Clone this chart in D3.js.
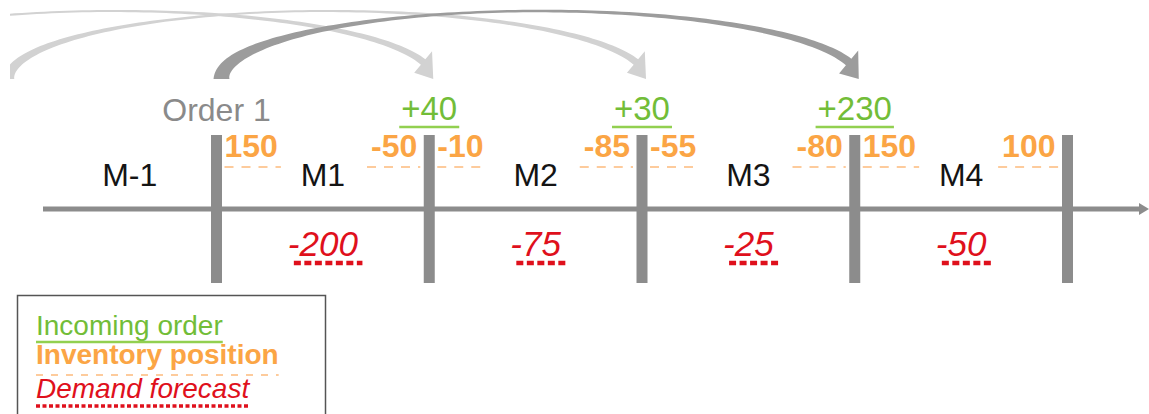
<!DOCTYPE html>
<html><head><meta charset="utf-8">
<script src="https://cdn.jsdelivr.net/npm/d3@7"></script>
<style>html,body{margin:0;padding:0;background:#fff;overflow:hidden}</style>
</head><body><svg id="c" width="1149" height="414"></svg>
<script>
// ---- data ----
const periods = ["M-1", "M1", "M2", "M3", "M4"];
const boundaries = [0, 1, 2, 3, 4];
const invStart = [150, -10, -55, 150];   // inventory at start of M1..M4
const invEnd = [-50, -85, -80, 100];     // inventory at end of M1..M4
const demand = [-200, -75, -25, -50];    // demand forecast M1..M4
const incomingBoundary = [1, 2, 3];
const incoming = [40, 30, 230];
const orderFrom = [-2, -1, 0];
const leadTime = 3;
const orderLabels = ["", "", "Order 1"];
const legendItems = ["Incoming order", "Inventory position", "Demand forecast"];

// ---- setup ----
const svg = d3.select("#c");
const x = d3.scaleLinear().domain([0, 4]).range([216.5, 1067.5]);
const font = "'Liberation Sans', Arial, sans-serif";
const C = {green: "#72bd38", greenLine: "#92d050", orange: "#fba545", orangeLine: "#fdbb7c",
           red: "#df101c", gray: "#8c8c8c", light: "#d2d2d2", dark: "#9c9c9c"};
const axisStart = 43, axisEnd = 1149, axisY = 209;

// ---- curved arrows ----
svg.append("clipPath").attr("id", "clipA").append("rect")
  .attr("x", 10).attr("y", 0).attr("width", 1139).attr("height", 110);
const ga = svg.append("g").attr("clip-path", "url(#clipA)");

function arrowPath(x0, x1, cy, b, wb, wm, we, hw) {
  const cx = (x0 + x1) / 2, a = (x1 - x0) / 2;
  const th = Math.asin(17 / b);
  const N = 120, outer = [], inner = [];
  let ph, nh;
  for (let i = 0; i <= N; i++) {
    const u = i / N;
    const t = Math.PI - (Math.PI - th) * u;
    const px = cx + a * Math.cos(t), py = cy - b * Math.sin(t);
    let tx = a * Math.sin(t), ty = b * Math.cos(t);
    const L = Math.hypot(tx, ty); tx /= L; ty /= L;
    const nx = ty, ny = -tx;
    const w = wm + (wb - wm) * Math.pow(Math.max(0, 1 - u / 0.5), 2)
                 + (we - wm) * Math.pow(Math.max(0, (u - 0.5) / 0.5), 1.6);
    outer.push([px + nx * w / 2, py + ny * w / 2]);
    inner.push([px - nx * w / 2, py - ny * w / 2]);
    if (i === N) { ph = [px, py]; nh = [nx, ny]; }
  }
  const pts = outer.slice();
  pts.push([ph[0] + nh[0] * hw, ph[1] + nh[1] * hw]);
  pts.push([x1, cy]);
  pts.push([ph[0] - nh[0] * hw, ph[1] - nh[1] * hw]);
  inner.reverse().forEach(p => pts.push(p));
  return "M" + pts.map(p => p[0].toFixed(2) + "," + p[1].toFixed(2)).join("L") + "Z";
}

const arrows = orderFrom.map((f, i) => ({from: f, to: f + leadTime, label: orderLabels[i]}));
arrows.forEach(d => {
  const main = d.label !== "";
  ga.append("path")
    .attr("d", arrowPath(x(d.from) + 5, x(d.to) + 4, 79, 68,
                         main ? 16 : 11, main ? 2.5 : 2, main ? 8.5 : 7, main ? 15 : 14))
    .attr("fill", main ? C.dark : C.light);
});

// ---- axis ----
svg.append("line").attr("x1", axisStart).attr("x2", axisEnd - 8)
  .attr("y1", axisY).attr("y2", axisY).attr("stroke", C.gray).attr("stroke-width", 5);
svg.append("path")
  .attr("d", `M${axisEnd - 10},${axisY - 6}L${axisEnd},${axisY}L${axisEnd - 10},${axisY + 6}Z`)
  .attr("fill", C.gray);

// ---- boundary bars ----
svg.selectAll("rect.bar").data(boundaries).join("rect").attr("class", "bar")
  .attr("x", d => x(d) - 5.5).attr("y", 135).attr("width", 11).attr("height", 148)
  .attr("fill", C.gray);

// ---- period labels ----
const segStart = i => i === 0 ? axisStart : x(i - 1);
const segEnd = i => x(i);
svg.selectAll("text.per").data(periods).join("text").attr("class", "per")
  .attr("x", (d, i) => (segStart(i) + segEnd(i)) / 2).attr("y", 186)
  .attr("text-anchor", "middle").attr("font-family", font).attr("font-size", 32)
  .attr("fill", "#141414").text(d => d);

// ---- order labels ----
arrows.filter(d => d.label).forEach(d => {
  svg.append("text").attr("x", x(d.from)).attr("y", 121).attr("text-anchor", "middle")
    .attr("font-family", font).attr("font-size", 32).attr("fill", "#8a8a8a").text(d.label);
});

// ---- inventory positions ----
function dashedUnder(t, y, color, width, dash, padL, padR) {
  const bb = t.node().getBBox();
  svg.append("line").attr("x1", bb.x - padL).attr("x2", bb.x + bb.width + padR)
    .attr("y1", y).attr("y2", y).attr("stroke", color).attr("stroke-width", width)
    .attr("stroke-dasharray", dash);
}
invStart.forEach((v, k) => {
  const t = svg.append("text").attr("x", x(k) + 8).attr("y", 157).attr("text-anchor", "start")
    .attr("font-family", font).attr("font-size", 32).attr("font-weight", "bold")
    .attr("fill", C.orange).text(String(v));
  dashedUnder(t, 167, C.orangeLine, 1.6, "9,8", 0, 3);
});
invEnd.forEach((v, k) => {
  const t = svg.append("text").attr("x", x(k + 1) - 12).attr("y", 157).attr("text-anchor", "end")
    .attr("font-family", font).attr("font-size", 32).attr("font-weight", "bold")
    .attr("fill", C.orange).text(String(v));
  dashedUnder(t, 167, C.orangeLine, 1.6, "9,8", 4, 3);
});

// ---- incoming orders ----
incoming.forEach((v, i) => {
  const t = svg.append("text").attr("x", x(incomingBoundary[i])).attr("y", 120)
    .attr("text-anchor", "middle").attr("font-family", font).attr("font-size", 33)
    .attr("fill", C.green).text("+" + v);
  const bb = t.node().getBBox();
  svg.append("line").attr("x1", bb.x - 2).attr("x2", bb.x + bb.width + 2)
    .attr("y1", 127).attr("y2", 127).attr("stroke", C.greenLine).attr("stroke-width", 2.5);
});

// ---- demand forecast ----
demand.forEach((v, k) => {
  const cxp = (x(k) + x(k + 1)) / 2;
  const t = svg.append("text").attr("x", cxp).attr("y", 256).attr("text-anchor", "middle")
    .attr("font-family", font).attr("font-size", 35).attr("font-style", "italic")
    .attr("fill", C.red).text(String(v));
  const bb = t.node().getBBox();
  svg.append("line").attr("x1", bb.x + 6).attr("x2", bb.x + bb.width + 4)
    .attr("y1", 263).attr("y2", 263).attr("stroke", C.red).attr("stroke-width", 4.5)
    .attr("stroke-dasharray", "7,3.5");
});

// ---- legend ----
svg.append("rect").attr("x", 17.5).attr("y", 295.5).attr("width", 308).attr("height", 140)
  .attr("fill", "none").attr("stroke", "#555").attr("stroke-width", 1.5);
const lg = [
  {y: 335, fill: C.green, weight: "normal", style: "normal", uy: 342, uc: C.greenLine, uw: 2.5, ud: null},
  {y: 364, fill: C.orange, weight: "bold", style: "normal", uy: 375, uc: C.orangeLine, uw: 1.6, ud: "7,8"},
  {y: 398, fill: C.red, weight: "normal", style: "italic", uy: 406, uc: C.red, uw: 3.5, ud: "4,2.5"}
];
legendItems.forEach((s, i) => {
  const o = lg[i];
  const t = svg.append("text").attr("x", 36).attr("y", o.y).attr("font-family", font)
    .attr("font-size", 28).attr("font-weight", o.weight).attr("font-style", o.style)
    .attr("fill", o.fill).text(s);
  const bb = t.node().getBBox();
  const ln = svg.append("line").attr("x1", 36).attr("x2", bb.x + bb.width)
    .attr("y1", o.uy).attr("y2", o.uy).attr("stroke", o.uc).attr("stroke-width", o.uw);
  if (o.ud) ln.attr("stroke-dasharray", o.ud);
});
</script></body></html>
